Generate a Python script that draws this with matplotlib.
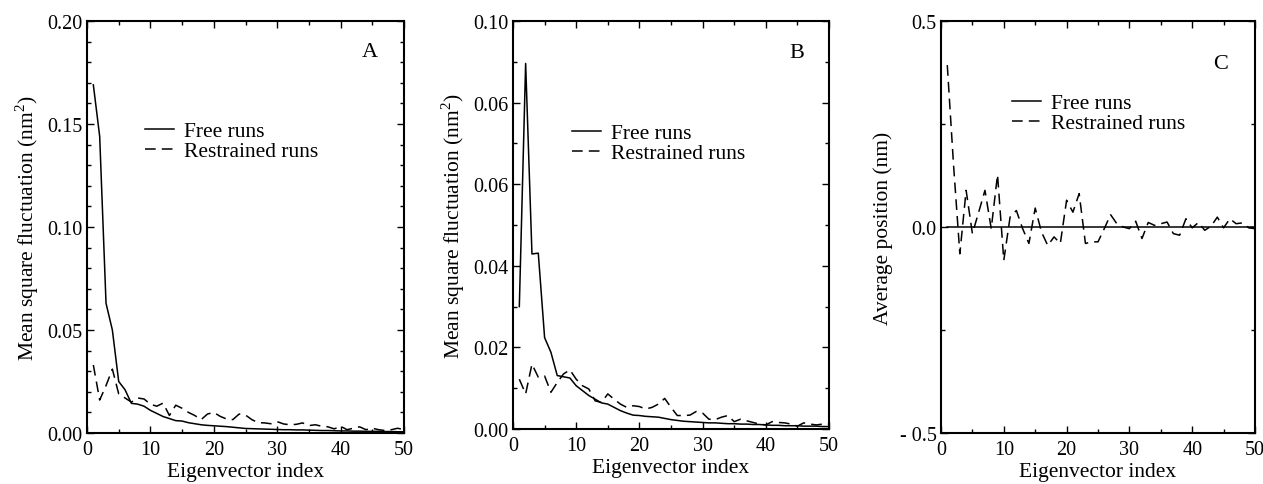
import numpy as np
import matplotlib
matplotlib.use("Agg")
import matplotlib.pyplot as plt
from matplotlib.ticker import MultipleLocator, FixedLocator

plt.rcParams['font.family'] = ['Liberation Serif', 'DejaVu Serif']
plt.rcParams['mathtext.fontset'] = 'custom'
plt.rcParams['mathtext.rm'] = 'Liberation Serif'

idx = list(range(1, 51))

a_free = [0.169, 0.144, 0.063, 0.050, 0.025, 0.021, 0.0144, 0.014, 0.013, 0.011,
          0.0095, 0.008, 0.007, 0.006, 0.0058, 0.005, 0.0045, 0.004, 0.0037, 0.0035,
          0.0033, 0.0031, 0.0028, 0.0025, 0.0022, 0.0021, 0.0020, 0.0019, 0.0018, 0.0017,
          0.0016, 0.0016, 0.0015, 0.0015, 0.0014, 0.0013, 0.0012, 0.0012, 0.0011, 0.0010,
          0.0010, 0.0009, 0.0009, 0.0008, 0.0008, 0.0008, 0.0007, 0.0007, 0.0006, 0.0006]
a_restr = [0.033, 0.016, 0.023, 0.031, 0.019, 0.017, 0.015, 0.017, 0.0165, 0.014,
           0.013, 0.0145, 0.0085, 0.0135, 0.012, 0.010, 0.0085, 0.0065, 0.0092, 0.010,
           0.0081, 0.0068, 0.0065, 0.0092, 0.0087, 0.0065, 0.005, 0.0049, 0.0045, 0.0055,
           0.0044, 0.004, 0.0042, 0.0049, 0.0036, 0.004, 0.0033, 0.003, 0.002, 0.0033,
           0.0016, 0.0023, 0.003, 0.0016, 0.0023, 0.0016, 0.0012, 0.0016, 0.0023, 0.0016]

b_free = [0.030, 0.0896, 0.0429, 0.0431, 0.0224, 0.0188, 0.0131, 0.0128, 0.0125, 0.0106,
          0.0094, 0.0082, 0.0073, 0.0064, 0.0061, 0.0053, 0.0045, 0.0039, 0.0034, 0.0033,
          0.0031, 0.0030, 0.0029, 0.0026, 0.0023, 0.0021, 0.0019, 0.0018, 0.0017, 0.0016,
          0.0015, 0.0015, 0.0014, 0.0013, 0.0013, 0.0012, 0.0012, 0.0011, 0.0011, 0.0010,
          0.0009, 0.0009, 0.0008, 0.0008, 0.0008, 0.0007, 0.0007, 0.0007, 0.0006, 0.0006]
b_restr = [0.0122, 0.0086, 0.0159, 0.0127, 0.013, 0.009, 0.0114, 0.0135, 0.0145, 0.0122,
           0.0106, 0.0098, 0.0069, 0.0065, 0.0086, 0.0073, 0.0061, 0.0053, 0.0057, 0.0055,
           0.0049, 0.0053, 0.0061, 0.0075, 0.0053, 0.0033, 0.0033, 0.0034, 0.0043, 0.0039,
           0.0024, 0.0023, 0.0029, 0.0033, 0.0018, 0.0024, 0.002, 0.0016, 0.0012, 0.001,
           0.0018, 0.0016, 0.0015, 0.0012, 0.0007, 0.0015, 0.0012, 0.001, 0.0012, 0.0012]

c_free = [0.0] * 50
c_restr = [0.393, 0.15, -0.065, 0.089, -0.016, 0.036, 0.089, -0.004, 0.127, -0.081,
           0.024, 0.04, -0.004, -0.04, 0.046, -0.012, -0.045, -0.024, -0.04, 0.065,
           0.036, 0.081, -0.04, -0.036, -0.036, -0.004, 0.03, 0.008, 0.0, -0.004,
           0.014, -0.028, 0.011, 0.004, 0.008, 0.012, -0.016, -0.02, 0.02, -0.002,
           0.011, -0.008, 0.002, 0.024, -0.002, 0.02, 0.008, 0.01, -0.002, -0.004]

x_ticks = [0, 10, 20, 30, 40, 50]
a_yticks = [0.00, 0.05, 0.10, 0.15, 0.20]
a_ylabels = ['0.00', '0.05', '0.10', '0.15', '0.20']
b_yticks = [0.00, 0.02, 0.04, 0.06, 0.08, 0.10]
b_ylabels = ['0.00', '0.02', '0.04', '0.06', '0.06', '0.10']
c_yticks = [-0.5, 0.0, 0.5]
c_ylabels = ['- 0.5', '0.0', '0.5']

W, H = 1263, 485
fig = plt.figure(figsize=(W / 100, H / 100), dpi=100)

def px_axes(l, t, r, b):
    return fig.add_axes([l / W, (H - b) / H, (r - l) / W, (b - t) / H])

TFS = 14.5
LFS = 15.5
dash = (0, (7, 4))

def style(ax, ylim, yticks, ylabels, yminor, ylabel):
    ax.set_xlim(0, 50)
    ax.set_ylim(*ylim)
    ax.xaxis.set_major_locator(FixedLocator(x_ticks))
    ax.xaxis.set_minor_locator(MultipleLocator(5))
    ax.set_yticks(yticks)
    ax.set_yticklabels(ylabels)
    ax.yaxis.set_minor_locator(MultipleLocator(yminor))
    ax.tick_params(which='both', direction='in', top=True, right=True, labelsize=TFS, width=1.0)
    ax.tick_params(which='major', length=5)
    ax.tick_params(which='minor', length=3)
    ax.tick_params(axis='x', which='major', pad=5)
    ax.tick_params(axis='y', which='major', pad=3)
    for s in ax.spines.values():
        s.set_linewidth(1.5)
    ax.set_xlabel('Eigenvector index', fontsize=LFS, labelpad=2)
    ax.set_ylabel(ylabel, fontsize=LFS, labelpad=5)

def legend(ax, x, y):
    ax.legend(loc='upper left', bbox_to_anchor=(x, y), frameon=False, fontsize=LFS,
              handlelength=1.35, handletextpad=0.45, labelspacing=0.0, borderpad=0,
              borderaxespad=0)

ylab_msf = 'Mean square fluctuation (nm$^2$)'

axA = px_axes(87, 22, 404, 434)
axA.plot(idx, a_free, color='black', lw=1.1, label='Free runs')
axA.plot(idx, a_restr, color='black', lw=1.1, linestyle=dash, label='Restrained runs')
style(axA, (0, 0.2), a_yticks, a_ylabels, 0.01, ylab_msf)
legend(axA, 0.183, 0.757)
axA.text(0.893, 0.925, 'A', transform=axA.transAxes, fontsize=16, ha='center', va='center')

axB = px_axes(513, 22, 829, 430)
axB.plot(idx, b_free, color='black', lw=1.1, label='Free runs')
axB.plot(idx, b_restr, color='black', lw=1.1, linestyle=dash, label='Restrained runs')
style(axB, (0, 0.1), b_yticks, b_ylabels, 0.01, ylab_msf)
legend(axB, 0.187, 0.75)
axB.text(0.899, 0.924, 'B', transform=axB.transAxes, fontsize=16, ha='center', va='center')

axC = px_axes(941, 22, 1255, 434)
axC.plot(idx, c_free, color='black', lw=1.1, label='Free runs')
axC.plot(idx, c_restr, color='black', lw=1.1, linestyle=dash, label='Restrained runs')
style(axC, (-0.5, 0.5), c_yticks, c_ylabels, 0.25, 'Average position (nm)')
legend(axC, 0.226, 0.825)
axC.text(0.889, 0.896, 'C', transform=axC.transAxes, fontsize=16, ha='center', va='center')

fig.savefig('out.png', dpi=100)
